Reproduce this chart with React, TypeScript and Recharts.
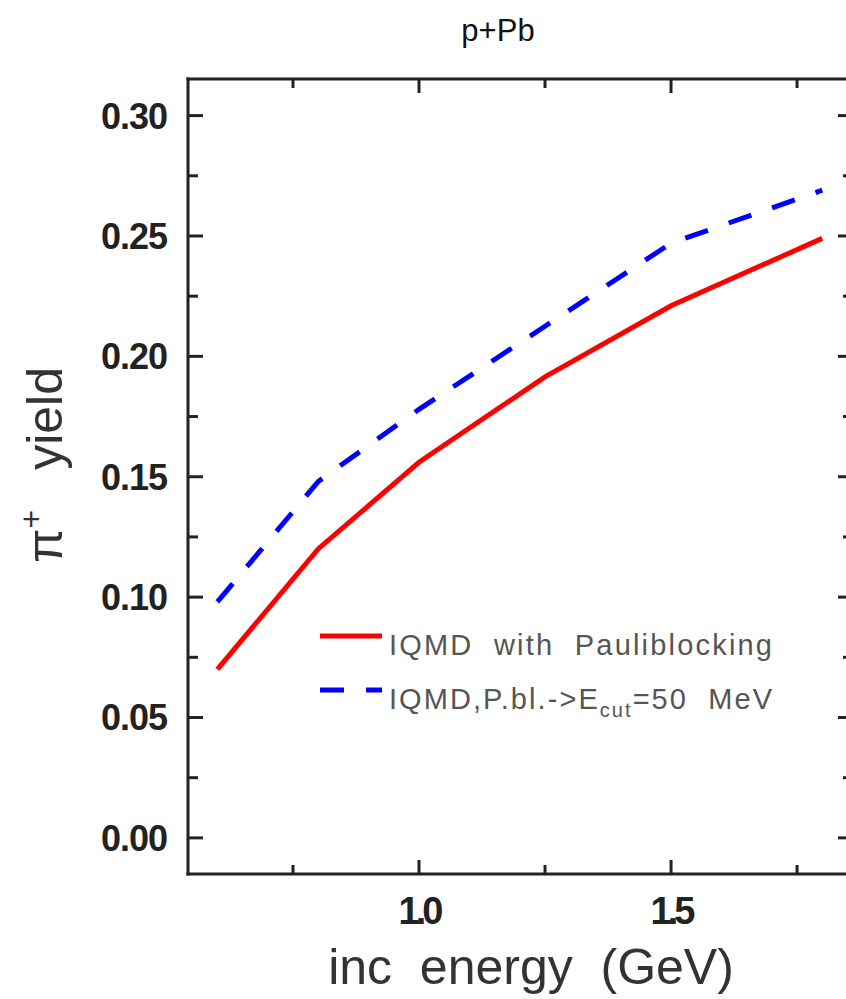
import React from 'react';
import { LineChart, Line, XAxis, YAxis, Legend } from 'recharts';

// Incident proton energy (GeV)
const energies = [0.6, 0.8, 1.0, 1.25, 1.5, 1.8];
// pi+ yield, IQMD with Pauli blocking
const pauliBlocking = [0.07, 0.12, 0.156, 0.1915, 0.221, 0.249];
// pi+ yield, IQMD with Pauli blocking cut at 50 MeV
const pauliCut50 = [0.098, 0.148, 0.178, 0.2125, 0.247, 0.269];

const seriesNames = ['IQMD with Pauliblocking', 'IQMD,P.bl.->E_cut=50 MeV'];
const seriesColors = ['#ff0000', '#0000ff'];

const xTicks = [0.75, 1.0, 1.25, 1.5, 1.75];
const xLabelled = [1.0, 1.5];
const yTicks = [0, 0.025, 0.05, 0.075, 0.1, 0.125, 0.15, 0.175, 0.2, 0.225, 0.25, 0.275, 0.3];
const yLabelled = [0, 0.05, 0.1, 0.15, 0.2, 0.25, 0.3];

const titleText = 'p+Pb';
const xAxisTitle = 'inc  energy  (GeV)';
const yAxisTitle = ['π', '+', 'yield'];

const xDomain: [number, number] = [0.5417, 1.861];
const yDomain: [number, number] = [-0.015, 0.3152];

const rows = energies.map((e, i) => ({
  energy: e,
  pb: pauliBlocking[i],
  cut: pauliCut50[i],
}));

const FONT = '"Liberation Sans", Arial, Helvetica, sans-serif';
const INK = '#222';

const near = (list: number[], v: number) => list.some((t) => Math.abs(t - v) < 1e-6);

const LeftTick = (props: any) => {
  const { x, y, payload } = props;
  const major = near(yLabelled, payload.value);
  return (
    <g>
      <line x1={x} x2={x + (major ? 15 : 10)} y1={y} y2={y} stroke={INK} strokeWidth={3} />
      {major && (
        <text
          x={x - 21}
          y={y}
          dy="0.36em"
          textAnchor="end"
          fontFamily={FONT}
          fontWeight="bold"
          fontSize={36}
          letterSpacing={-1}
          fill={INK}
        >
          {payload.value.toFixed(2)}
        </text>
      )}
    </g>
  );
};

const RightTick = (props: any) => {
  const { x, y, payload } = props;
  const major = near(yLabelled, payload.value);
  return <line x1={x} x2={x - (major ? 15 : 10)} y1={y} y2={y} stroke={INK} strokeWidth={3} />;
};

const BottomTick = (props: any) => {
  const { x, y, payload } = props;
  const major = near(xLabelled, payload.value);
  return (
    <g>
      <line x1={x} x2={x} y1={y} y2={y - (major ? 14 : 9)} stroke={INK} strokeWidth={3} />
      {major && (
        <text
          x={x}
          y={y + 50}
          textAnchor="middle"
          fontFamily={FONT}
          fontWeight="bold"
          fontSize={38}
          letterSpacing={-4}
          fill={INK}
        >
          {payload.value.toFixed(1)}
        </text>
      )}
    </g>
  );
};

const TopTick = (props: any) => {
  const { x, y, payload } = props;
  const major = near(xLabelled, payload.value);
  return <line x1={x} x2={x} y1={y} y2={y + (major ? 14 : 9)} stroke={INK} strokeWidth={3} />;
};

const LegendLabel = ({ name, x, y }: { name: string; x: number; y: number }) => {
  const m = name.match(/^(.*)_(\w+?)(=.*)$/);
  const common = {
    x,
    y,
    fontFamily: FONT,
    fontSize: 29,
    fill: '#555',
    textLength: 383,
    lengthAdjust: 'spacing' as const,
    style: { whiteSpace: 'pre' as const },
  };
  if (!m) {
    return <text {...common}>{name.replace(/ /g, '  ')}</text>;
  }
  return (
    <text {...common}>
      <tspan>{m[1]}</tspan>
      <tspan fontSize={20} dy={8}>
        {m[2]}
      </tspan>
      <tspan dy={-8}>{m[3].replace(/ /g, '  ')}</tspan>
    </text>
  );
};

const renderLegend = (props: any) => {
  const payload = props.payload || [];
  const rowsY = [24, 78];
  return (
    <svg width={480} height={115} style={{ display: 'block', overflow: 'visible' }}>
      {payload.map((entry: any, i: number) => {
        const dash = entry.payload && entry.payload.strokeDasharray;
        return (
          <g key={String(entry.value)}>
            <line
              x1={5}
              x2={67}
              y1={rowsY[i]}
              y2={rowsY[i]}
              stroke={entry.color}
              strokeWidth={5}
              strokeDasharray={dash}
            />
            <LegendLabel name={String(entry.value)} x={74} y={rowsY[i] + 19} />
          </g>
        );
      })}
    </svg>
  );
};

export default function App() {
  return (
    <div
      style={{
        position: 'fixed',
        left: 0,
        top: 0,
        width: 846,
        height: 999,
        overflow: 'hidden',
        background: '#fff',
      }}
    >
      <LineChart
        width={880}
        height={999}
        data={rows}
        margin={{ top: 59, right: 7, bottom: 95, left: 128 }}
      >
        <XAxis
          xAxisId="bottom"
          dataKey="energy"
          type="number"
          orientation="bottom"
          domain={xDomain}
          allowDataOverflow
          ticks={xTicks}
          interval={0}
          height={30}
          tickSize={0}
          tickMargin={0}
          tickLine={false}
          axisLine={{ stroke: INK, strokeWidth: 3, strokeLinecap: 'square' }}
          tick={(p: any) => <BottomTick {...p} />}
        />
        <XAxis
          xAxisId="top"
          dataKey="energy"
          type="number"
          orientation="top"
          domain={xDomain}
          allowDataOverflow
          ticks={xTicks}
          interval={0}
          height={20}
          tickSize={0}
          tickMargin={0}
          tickLine={false}
          axisLine={{ stroke: INK, strokeWidth: 3, strokeLinecap: 'square' }}
          tick={(p: any) => <TopTick {...p} />}
        />
        <YAxis
          yAxisId="left"
          type="number"
          orientation="left"
          domain={yDomain}
          allowDataOverflow
          ticks={yTicks}
          interval={0}
          width={60}
          tickSize={0}
          tickMargin={0}
          tickLine={false}
          axisLine={{ stroke: INK, strokeWidth: 3, strokeLinecap: 'square' }}
          tick={(p: any) => <LeftTick {...p} />}
        />
        <YAxis
          yAxisId="right"
          type="number"
          orientation="right"
          domain={yDomain}
          allowDataOverflow
          ticks={yTicks}
          interval={0}
          width={20}
          tickSize={0}
          tickMargin={0}
          tickLine={false}
          axisLine={{ stroke: INK, strokeWidth: 3, strokeLinecap: 'square' }}
          tick={(p: any) => <RightTick {...p} />}
        />
        <Line
          xAxisId="bottom"
          yAxisId="left"
          type="linear"
          dataKey="pb"
          name={seriesNames[0]}
          stroke={seriesColors[0]}
          strokeWidth={5}
          dot={false}
          activeDot={false}
          isAnimationActive={false}
        />
        <Line
          xAxisId="bottom"
          yAxisId="left"
          type="linear"
          dataKey="cut"
          name={seriesNames[1]}
          stroke={seriesColors[1]}
          strokeWidth={5}
          strokeDasharray="24 22"
          dot={false}
          activeDot={false}
          isAnimationActive={false}
        />
        <Legend
          layout="vertical"
          verticalAlign="middle"
          align="center"
          wrapperStyle={{ position: 'absolute', left: 315, top: 612, width: 480, height: 115 }}
          content={renderLegend}
        />
      </LineChart>
      <svg
        width={846}
        height={999}
        style={{ position: 'absolute', left: 0, top: 0, pointerEvents: 'none' }}
      >
        <text x={498} y={41} textAnchor="middle" fontFamily={FONT} fontSize={31} fill="#111">
          {titleText}
        </text>
        <text
          x={531}
          y={984}
          textAnchor="middle"
          fontFamily={FONT}
          fontSize={50}
          fill="#333"
          style={{ whiteSpace: 'pre' }}
        >
          {xAxisTitle}
        </text>
        <text
          transform="rotate(-90, 62, 465)"
          x={62}
          y={465}
          textAnchor="middle"
          fontFamily={FONT}
          fontSize={50}
          fill="#333"
        >
          <tspan>{yAxisTitle[0]}</tspan>
          <tspan fontSize={32} dy={-20}>
            {yAxisTitle[1]}
          </tspan>
          <tspan dy={20} dx={40}>
            {yAxisTitle[2]}
          </tspan>
        </text>
      </svg>
    </div>
  );
}
